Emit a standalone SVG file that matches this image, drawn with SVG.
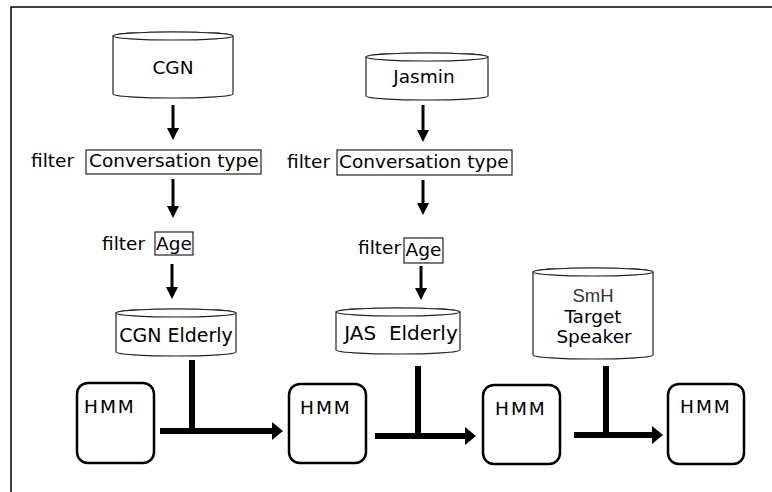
<svg xmlns="http://www.w3.org/2000/svg" width="772" height="492" viewBox="0 0 772 492">
<style>
  text { font-family: "DejaVu Sans", Verdana, sans-serif; font-size: 18.5px; fill: #000; }
  .cyl { fill: #fff; stroke: #222; stroke-width: 1.2; }
  .box { fill: #fff; stroke: #222; stroke-width: 1.2; }
  .hmm { fill: #fff; stroke: #000; stroke-width: 2.5; }
  .hmmt { letter-spacing: 2px; }
  .thin { stroke: #000; stroke-width: 3; fill: none; }
  .thick { stroke: #000; stroke-width: 6; fill: none; }
  .mid { text-anchor: middle; }
</style>
<defs>
  <marker id="ah" markerUnits="userSpaceOnUse" viewBox="0 0 12 12" refX="1" refY="6" markerWidth="12" markerHeight="12" orient="auto">
    <path d="M0,0 L12,6 L0,12 Z" fill="#000"/>
  </marker>
  <marker id="ahb" markerUnits="userSpaceOnUse" viewBox="0 0 11 18" refX="1" refY="9" markerWidth="11" markerHeight="18" orient="auto">
    <path d="M0,0 L11,9 L0,18 Z" fill="#000"/>
  </marker>
</defs>
<rect x="0" y="0" width="772" height="492" fill="#fff"/>
<path d="M11,492 L11,7 L772,7" fill="none" stroke="#000" stroke-width="1.5"/>

<g id="cgn">
  <path class="cyl" d="M113,36 L113,94 A60,4 0 0 0 233,94 L233,36 A60,4 0 0 0 113,36 Z"/>
  <ellipse class="cyl" cx="173" cy="36" rx="60" ry="4"/>
  <text x="173" y="74" class="mid">CGN</text>
</g>
<g id="cgn-conv">
  <text x="31" y="167">filter</text>
  <rect class="box" x="86" y="150" width="175" height="24"/>
  <text x="89" y="167">Conversation type</text>
</g>
<g id="cgn-age">
  <text x="102" y="250">filter</text>
  <rect class="box" x="155" y="232" width="38" height="23"/>
  <text x="174" y="250" class="mid">Age</text>
</g>
<g id="cgn-elderly">
  <path class="cyl" d="M116,313 L116,352 A60,4 0 0 0 236,352 L236,313 A60,4 0 0 0 116,313 Z"/>
  <ellipse class="cyl" cx="176" cy="313" rx="60" ry="4"/>
  <text x="176" y="342" class="mid" style="font-size:19px">CGN Elderly</text>
</g>

<g id="jasmin">
  <path class="cyl" d="M366,57 L366,96 A61,4 0 0 0 488,96 L488,57 A61,4 0 0 0 366,57 Z"/>
  <ellipse class="cyl" cx="427" cy="57" rx="61" ry="4"/>
  <text x="424" y="83" class="mid">Jasmin</text>
</g>
<g id="jas-conv">
  <text x="287" y="168">filter</text>
  <rect class="box" x="337" y="150" width="175" height="25"/>
  <text x="339" y="168">Conversation type</text>
</g>
<g id="jas-age">
  <text x="358" y="254">filter</text>
  <rect class="box" x="404" y="238" width="39" height="25"/>
  <text x="423.5" y="256" class="mid">Age</text>
</g>
<g id="jas-elderly">
  <path class="cyl" d="M336,312 L336,350 A62,4 0 0 0 460,350 L460,312 A62,4 0 0 0 336,312 Z"/>
  <ellipse class="cyl" cx="398" cy="312" rx="62" ry="4"/>
  <text x="401" y="340" class="mid" style="font-size:20px;white-space:pre" xml:space="preserve">JAS  Elderly</text>
</g>

<g id="smh">
  <path class="cyl" d="M533,272 L533,355 A60,4 0 0 0 653,355 L653,272 A60,4 0 0 0 533,272 Z"/>
  <ellipse class="cyl" cx="593" cy="272" rx="60" ry="4"/>
  <text x="593" y="302" class="mid" style="font-family:'Liberation Sans',Arial,sans-serif;fill:#333">SmH</text>
  <text x="593" y="323" class="mid">Target</text>
  <text x="594" y="343" class="mid">Speaker</text>
</g>

<g id="hmm1">
  <rect class="hmm" x="77" y="383" width="77" height="80" rx="11"/>
  <text x="84" y="413" class="hmmt">HMM</text>
</g>
<g id="hmm2">
  <rect class="hmm" x="289" y="384" width="77" height="79" rx="11"/>
  <text x="300" y="414" class="hmmt">HMM</text>
</g>
<g id="hmm3">
  <rect class="hmm" x="483" y="385" width="77" height="79" rx="11"/>
  <text x="495" y="415" class="hmmt">HMM</text>
</g>
<g id="hmm4">
  <rect class="hmm" x="668" y="384" width="76" height="80" rx="11"/>
  <text x="680" y="413" class="hmmt">HMM</text>
</g>

<g id="connectors">
  <line class="thin" x1="173" y1="105" x2="173" y2="129" marker-end="url(#ah)"/>
  <line class="thin" x1="173" y1="179" x2="173" y2="207" marker-end="url(#ah)"/>
  <line class="thin" x1="172" y1="264" x2="172" y2="288" marker-end="url(#ah)"/>
  <line class="thin" x1="423" y1="105" x2="423" y2="131" marker-end="url(#ah)"/>
  <line class="thin" x1="423" y1="180" x2="423" y2="204" marker-end="url(#ah)"/>
  <line class="thin" x1="421" y1="266" x2="421" y2="289" marker-end="url(#ah)"/>

  <line class="thick" x1="192" y1="360" x2="192" y2="434"/>
  <line class="thick" x1="160" y1="431" x2="273" y2="431" marker-end="url(#ahb)"/>
  <line class="thick" x1="418" y1="366" x2="418" y2="439"/>
  <line class="thick" x1="375" y1="436" x2="466" y2="436" marker-end="url(#ahb)"/>
  <line class="thick" x1="606" y1="366" x2="606" y2="438"/>
  <line class="thick" x1="574" y1="435" x2="653" y2="435" marker-end="url(#ahb)"/>
</g>
</svg>
